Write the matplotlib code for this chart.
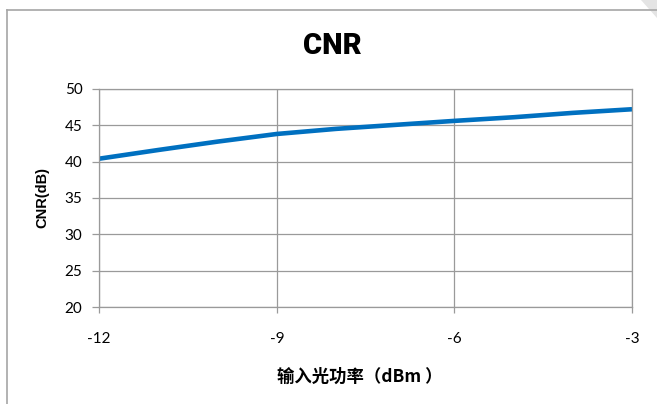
import matplotlib
matplotlib.use("Agg")
import matplotlib.pyplot as plt
from matplotlib.lines import Line2D
from matplotlib.patches import Polygon

# input optical power (dBm) vs CNR (dB)
power_dbm = [-12, -11, -10, -9, -8, -7, -6, -5, -4, -3]
cnr_db = [40.4, 41.6, 42.75, 43.8, 44.5, 45.05, 45.6, 46.1, 46.7, 47.2]

x_ticks = [-12, -9, -6, -3]
y_ticks = [20, 25, 30, 35, 40, 45, 50]

plt.rcParams['font.family'] = ['Lato', 'DejaVu Sans']
plt.rcParams['axes.unicode_minus'] = False

fig = plt.figure(figsize=(6.57, 4.04), dpi=100)
ax = fig.add_axes([0.151, 0.240, 0.811, 0.540])

ax.plot(power_dbm, cnr_db, color='#0070C0', linewidth=3.3,
        solid_capstyle='butt', solid_joinstyle='round')

ax.set_xlim(-12, -3)
ax.set_ylim(20, 50)
ax.set_xticks(x_ticks)
ax.set_yticks(y_ticks)
ax.grid(True, color='#9a9a9a', linewidth=0.9)
ax.set_axisbelow(True)
for s in ax.spines.values():
    s.set_color('#9a9a9a')
    s.set_linewidth(0.9)
ax.tick_params(axis='y', length=5, width=0.9, color='#9a9a9a', pad=7, labelsize=11)
ax.tick_params(axis='x', length=4, width=0.9, color='#9a9a9a', pad=14, labelsize=11)

fig.text(0.506, 0.887, 'CNR', ha='center', va='center', fontsize=21, fontweight='heavy',
         family=['Roboto', 'DejaVu Sans'])
fig.text(0.064, 0.51, 'CNR(dB)', ha='center', va='center', rotation=90,
         fontsize=10.5, fontweight='bold', family=['Liberation Sans', 'DejaVu Sans'])
fig.text(0.548, 0.068, '输入光功率（dBm ）', ha='center', va='center', fontsize=12.5,
         fontweight='heavy', family=['Noto Sans CJK SC', 'DejaVu Sans'])

# chart frame edges and the folded corner
fig.add_artist(Line2D([0.011, 0.011], [0.0, 0.975], transform=fig.transFigure,
                      color='#a6a6a6', linewidth=1.2))
fig.add_artist(Line2D([0.011, 1.0], [0.975, 0.975], transform=fig.transFigure,
                      color='#a6a6a6', linewidth=1.2))
fig.add_artist(Polygon([[0.975, 1.0], [1.0, 1.0], [1.0, 0.955]], closed=True,
                       transform=fig.transFigure, facecolor='#e4e4e4', edgecolor='none'))

fig.savefig('out.png', dpi=100)
